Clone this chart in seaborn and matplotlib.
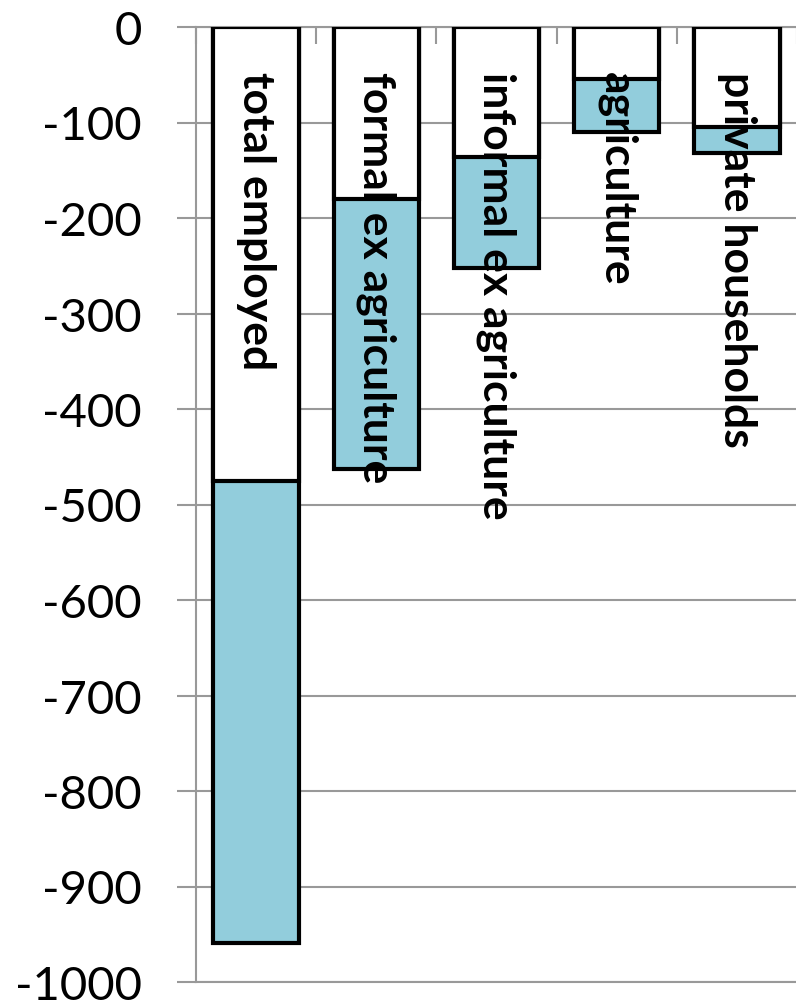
import matplotlib
matplotlib.use('Agg')
import matplotlib.pyplot as plt
import seaborn as sns
import pandas as pd

# ---- data ----
categories = ['total employed', 'formal ex agriculture', 'informal ex agriculture',
              'agriculture', 'private households']
first_part = [-475, -180, -136, -54, -105]   # white segment from 0
totals = [-959, -463, -252, -110, -132]      # bottom of blue segment

df = pd.DataFrame({'category': categories, 'first': first_part, 'total': totals})

sns.set_theme(style='white')
plt.rcParams['font.family'] = ['Lato', 'DejaVu Sans']
plt.rcParams['axes.unicode_minus'] = False

fig = plt.figure(figsize=(7.96, 10.04), dpi=100)
ax = fig.add_axes([196 / 796, 1 - 983 / 1004, 601 / 796, 955 / 1004])

# blue full bars, white first segment drawn over them
sns.barplot(data=df, x='category', y='total', color='#92CDDC', saturation=1,
            width=0.71, edgecolor='black', linewidth=3, ax=ax, zorder=3)
sns.barplot(data=df, x='category', y='first', color='white', saturation=1,
            width=0.71, edgecolor='black', linewidth=3, ax=ax, zorder=4)

for i, name in enumerate(categories):
    ax.text(i, -46, name, rotation=-90, ha='center', va='top',
            fontsize=32, fontweight='bold', color='black', zorder=6)

ax.set_ylim(-1000, 0)
ax.set_xlim(-0.5, 4.5)
ax.set_yticks(range(-1000, 1, 100))
ax.yaxis.grid(True, color='#999999', linewidth=1.5, zorder=0)
ax.tick_params(axis='y', labelsize=34, length=14, width=1.5, color='#999999',
               labelcolor='black', pad=25, left=True)

ax.xaxis.tick_top()
ax.set_xticks([-0.5, 0.5, 1.5, 2.5, 3.5, 4.5])
ax.set_xticklabels([])
ax.tick_params(axis='x', direction='in', length=12, width=1.5, color='#999999', top=True)
ax.set_xlabel('')
ax.set_ylabel('')

ax.spines['right'].set_visible(False)
for side in ['left', 'top', 'bottom']:
    ax.spines[side].set_color('#999999')
    ax.spines[side].set_linewidth(1.5)

fig.savefig('out.png', dpi=100)
